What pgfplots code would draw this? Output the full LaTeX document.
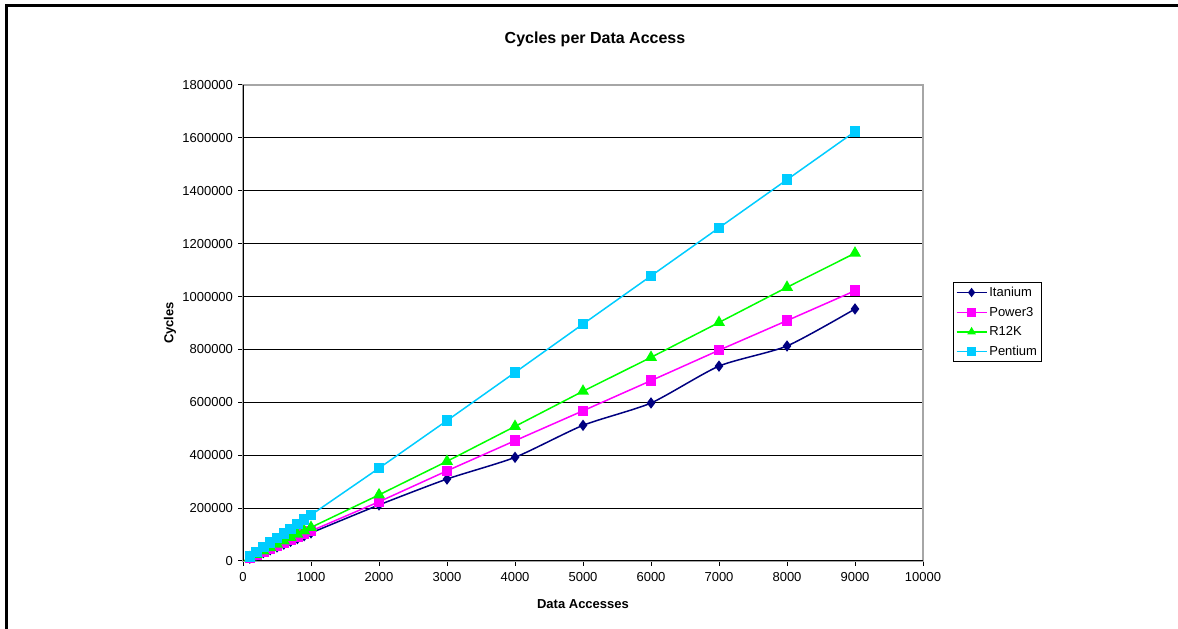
\documentclass[border=0pt]{standalone}
\usepackage{pgfplots}
\pgfplotsset{compat=1.18}
\usepackage{fontspec}
\setmainfont{Liberation Sans}

\definecolor{itan}{RGB}{0,0,128}
\definecolor{pow}{RGB}{255,0,255}
\definecolor{rk}{RGB}{0,255,0}
\definecolor{pent}{RGB}{0,204,255}

\begin{document}
\begin{tikzpicture}
\useasboundingbox (0pt,0pt) rectangle (1178pt,629pt);
% chart frame
\draw[line width=3pt] (6pt,-5pt) -- (6pt,623pt) -- (1185pt,623pt);
% title and axis titles
\node[font=\fontsize{16}{19}\selectfont\bfseries] at (595pt,590pt) {Cycles per Data Access};
\node[font=\fontsize{13}{15}\selectfont\bfseries,rotate=90] at (170pt,306pt) {Cycles};
\node[font=\fontsize{13}{15}\selectfont\bfseries] at (583pt,25pt) {Data Accesses};

\begin{axis}[
  at={(243pt,68pt)}, anchor=south west,
  scale only axis, width=680pt, height=476pt,
  xmin=0, xmax=10000, ymin=0, ymax=1800000,
  xtick={0,1000,...,10000},
  ytick={0,200000,...,1800000},
  scaled ticks=false,
  /pgf/number format/.cd, fixed, 1000 sep={}, assume math mode=true,
  /pgfplots/.cd,
  tick label style={font=\fontsize{13}{15}\selectfont},
  xticklabel style={yshift=-2.5pt},
  yticklabel style={xshift=-1.5pt},
  tick align=outside, major tick length=5pt,
  tick style={black, line width=1pt},
  xtick pos=bottom, ytick pos=left,
  ymajorgrids, grid style={black, line width=0.9pt},
  axis line style={gray!70, line width=1.5pt},
  legend style={at={(1.044,0.502)}, anchor=west, draw=black, line width=0.8pt,
    font=\fontsize{13}{15}\selectfont, row sep=5pt, inner sep=2.5pt},
  legend cell align=left,
  legend image code/.code={\draw[mark repeat=2,mark phase=2,mark size=3.5pt] plot coordinates {(0pt,0pt) (15pt,0pt) (30pt,0pt)};},
  every axis plot/.append style={line width=1.5pt},
]
\draw[black, line width=1.5pt] (rel axis cs:0,0) -- (rel axis cs:1,0);
\draw[black, line width=1.5pt] (rel axis cs:0,0) -- (rel axis cs:0,1);

\addplot[itan, smooth, tension=0.4, mark=diamond*, mark size=4.5pt, mark options={solid, fill=itan}] coordinates {
(100,10600) (200,21300) (300,31900) (400,42500) (500,53100) (600,63800) (700,74400) (800,85000) (900,95700) (1000,106300)
(2000,212000) (3000,310000) (4000,392000) (5000,513000) (6000,597500) (7000,737000) (8000,813000) (9000,953000)};
\addlegendentry{Itanium}

\addplot[pow, mark=square*, mark size=4.5pt, mark options={solid, fill=pow}] coordinates {
(100,11400) (200,22700) (300,34100) (400,45400) (500,56800) (600,68100) (700,79500) (800,90800) (900,102200) (1000,113500)
(2000,224000) (3000,341000) (4000,455000) (5000,568000) (6000,682000) (7000,797000) (8000,909000) (9000,1022000)};
\addlegendentry{Power3}

\addplot[rk, mark=triangle*, mark size=5.5pt, mark options={solid, fill=rk}] coordinates {
(100,12700) (200,25400) (300,38100) (400,50800) (500,63500) (600,76200) (700,88900) (800,101600) (900,114300) (1000,127000)
(2000,250000) (3000,377000) (4000,509000) (5000,642000) (6000,770000) (7000,902000) (8000,1035000) (9000,1164000)};
\addlegendentry{R12K}

\addplot[pent, mark=square*, mark size=4.5pt, mark options={solid, fill=pent}] coordinates {
(100,17400) (200,34800) (300,52200) (400,69600) (500,87000) (600,104400) (700,121800) (800,139200) (900,156600) (1000,174000)
(2000,351000) (3000,531000) (4000,713000) (5000,896000) (6000,1078000) (7000,1260000) (8000,1442000) (9000,1624000)};
\addlegendentry{Pentium}
\end{axis}
\end{tikzpicture}
\end{document}
